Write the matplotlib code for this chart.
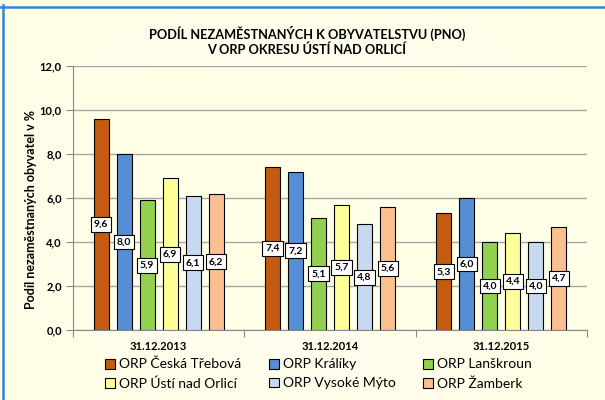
import matplotlib
matplotlib.use("Agg")
import matplotlib.pyplot as plt
import numpy as np
from matplotlib.patches import Patch
from matplotlib.lines import Line2D

plt.rcParams['font.family'] = ['Lato', 'DejaVu Sans']

categories = ["31.12.2013", "31.12.2014", "31.12.2015"]
series_names = ["ORP Česká Třebová", "ORP Králíky", "ORP Lanškroun",
                "ORP Ústí nad Orlicí", "ORP Vysoké Mýto", "ORP Žamberk"]
ceska_trebova = [9.6, 7.4, 5.3]
kraliky = [8.0, 7.2, 6.0]
lanskroun = [5.9, 5.1, 4.0]
usti = [6.9, 5.7, 4.4]
vysoke_myto = [6.1, 4.8, 4.0]
zamberk = [6.2, 5.6, 4.7]
series_values = [ceska_trebova, kraliky, lanskroun, usti, vysoke_myto, zamberk]
colors = ["#C55A11", "#558ED5", "#92D050", "#FFFF99", "#C6D9F1", "#FAC090"]
yticks = [0, 2, 4, 6, 8, 10, 12]

fig = plt.figure(figsize=(6.05, 4.0), dpi=100)

# background gradient
bg = fig.add_axes([0, 0, 1, 1], zorder=-10)
yy, xx = np.mgrid[0:1:200j, 0:1:300j]
r = np.sqrt(((xx - 0.5) / 0.6) ** 2 + ((yy - 0.5) / 0.7) ** 2)
r = np.clip(r, 0, 1)
c_center = np.array([255, 255, 248]) / 255
c_edge = np.array([255, 253, 228]) / 255
img = c_center[None, None, :] * (1 - r[..., None]) + c_edge[None, None, :] * r[..., None]
bg.imshow(img, extent=[0, 1, 0, 1], aspect='auto')
bg.set_axis_off()

# blue frame lines
fig.add_artist(Line2D([2.5 / 605, 2.5 / 605], [0, 1 - 5 / 400], color="#2F86D6", lw=1.8,
                      transform=fig.transFigure))
fig.add_artist(Line2D([0, 1], [1 - 6.5 / 400, 1 - 6.5 / 400], color="#2F86D6", lw=1.8,
                      transform=fig.transFigure))

ax = fig.add_axes([73 / 605, 70 / 400, 514 / 605, 264 / 400])
ax.set_facecolor("#FFFFE8")
ax.set_xlim(-0.5, 2.5)
ax.set_ylim(0, 12)

x = np.arange(len(categories))
step = 0.1345
width = 0.088
for i, (name, vals, col) in enumerate(zip(series_names, series_values, colors)):
    pos = x + (i - 2.5) * step
    ax.bar(pos, vals, width=width, color=col, edgecolor="black", linewidth=0.8, zorder=3)
    for p, v in zip(pos, vals):
        ax.text(p, v / 2, f"{v:.1f}".replace(".", ","), ha="center", va="center",
                fontsize=7.5, fontweight="bold", zorder=5,
                bbox=dict(boxstyle="square,pad=0.28", facecolor="white",
                          edgecolor="black", linewidth=0.8))

ax.set_yticks(yticks)
ax.set_yticklabels([f"{t:.1f}".replace(".", ",") for t in yticks],
                   fontsize=8, fontweight="bold")
ax.yaxis.grid(True, color="#A6A6A6", linewidth=1.0, zorder=0)
ax.tick_params(axis="y", length=5, color="#888888", pad=3)

ax.set_xticks([-0.5, 0.5, 1.5, 2.5])
ax.set_xticklabels([])
ax.tick_params(axis="x", length=5, color="#888888")
for xc, lab in zip(x, categories):
    ax.text(xc, -0.75, lab, ha="center", va="center", fontsize=8, fontweight="bold",
            transform=ax.transData)

for s in ["top", "right"]:
    ax.spines[s].set_visible(False)
ax.spines["left"].set_color("#888888")
ax.spines["bottom"].set_color("#888888")

ax.set_ylabel("Podíl nezaměstnaných obyvatel v %", fontsize=9, fontweight="bold")
ax.yaxis.set_label_coords((37 - 73) / 514, 0.455)

fig.text(307 / 605, 1 - 33 / 400, "PODÍL NEZAMĚSTNANÝCH K OBYVATELSTVU (PNO)",
         ha="center", va="center", fontsize=9.2, fontweight="bold")
fig.text(307 / 605, 1 - 50 / 400, "V ORP OKRESU ÚSTÍ NAD ORLICÍ",
         ha="center", va="center", fontsize=9.2, fontweight="bold")

handles = [Patch(facecolor=c, edgecolor="black", linewidth=0.8, label=n)
           for c, n in zip(colors, series_names)]
order = [0, 3, 1, 4, 2, 5]
leg = fig.legend([handles[i] for i in order], [series_names[i] for i in order],
                 ncol=3, loc="upper left", bbox_to_anchor=(105 / 605, 1 - 358 / 400),
                 frameon=False, fontsize=10, handlelength=0.7, handleheight=0.7,
                 handletextpad=0.3, columnspacing=2.0, labelspacing=0.5,
                 borderaxespad=0, borderpad=0)

fig.savefig("out.png", dpi=100)
